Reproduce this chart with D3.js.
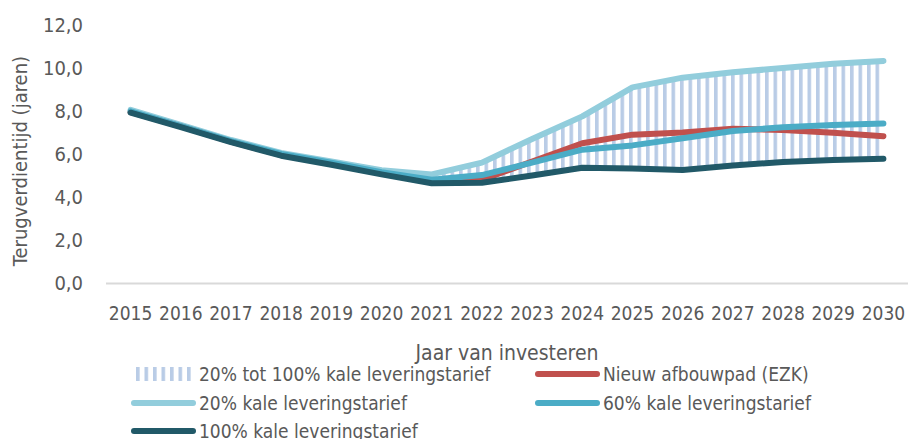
<!DOCTYPE html>
<html><head><meta charset="utf-8">
<script src="https://cdn.jsdelivr.net/npm/d3@7"></script>
<style>
body{margin:0;background:#fff;}
text{font-family:"Liberation Sans Narrow","DejaVu Sans Condensed","Open Sans",sans-serif;fill:#595959;}
</style></head>
<body><svg id="c" width="908" height="439"></svg>
<script>
const years = ["2015","2016","2017","2018","2019","2020","2021","2022","2023","2024","2025","2026","2027","2028","2029","2030"];
const s20  = [8.05,7.35,6.65,6.05,5.65,5.25,5.05,5.6,6.7,7.75,9.1,9.55,9.8,10.0,10.2,10.33];
const s60  = [7.98,7.3,6.6,6.0,5.6,5.15,4.8,5.02,5.6,6.2,6.4,6.73,7.07,7.24,7.35,7.42];
const sEZK = [7.95,7.28,6.58,5.95,5.55,5.1,4.7,4.8,5.65,6.5,6.9,7.0,7.18,7.12,6.99,6.83];
const s100 = [7.92,7.25,6.55,5.92,5.5,5.05,4.64,4.66,5.0,5.36,5.32,5.26,5.47,5.63,5.72,5.78];
const yTicks = [0,2,4,6,8,10,12];
const legendLabels = ["20% tot 100% kale leveringstarief","Nieuw afbouwpad (EZK)","20% kale leveringstarief","60% kale leveringstarief","100% kale leveringstarief"];

const svg = d3.select("#c");
const x = d3.scaleBand().domain(years).range([105.5,908.5]);
const y = d3.scaleLinear().domain([0,12]).range([283,25]);
const cx = d => x(d)+x.bandwidth()/2;

const defs = svg.append("defs");
const pat = defs.append("pattern").attr("id","hatch").attr("patternUnits","userSpaceOnUse")
  .attr("width",8.5).attr("height",10);
pat.append("rect").attr("x",0).attr("y",0).attr("width",3.6).attr("height",10).attr("fill","#b9cce6");

const fmt = v => d3.format(".1f")(v).replace(".",",");

// y axis labels
const yAx = svg.append("g").attr("transform","translate(83,0)")
  .call(d3.axisLeft(y).tickValues(yTicks).tickFormat(fmt).tickSize(0).tickPadding(0));
yAx.select(".domain").remove();
yAx.selectAll("text").style("font-size","20px").attr("fill","#595959");

// x axis
const xAx = svg.append("g").attr("transform","translate(0,283)")
  .call(d3.axisBottom(x).tickSize(0).tickPadding(24));
xAx.select(".domain").attr("stroke","#d9d9d9").attr("stroke-width",2);
xAx.selectAll("text").style("font-size","19px").attr("fill","#595959");

// titles
svg.append("text").attr("transform","translate(27,161) rotate(-90)").attr("text-anchor","middle")
  .style("font-size","20px").text("Terugverdientijd (jaren)");
svg.append("text").attr("x",507).attr("y",360).attr("text-anchor","middle")
  .style("font-size","21px").text("Jaar van investeren");

// area
const area = d3.area().x((d,i)=>cx(years[i])).y0((d,i)=>y(s100[i])).y1((d,i)=>y(s20[i]));
svg.append("path").datum(years).attr("d",area).attr("fill","url(#hatch)");

const line = arr => d3.line().x((d,i)=>cx(years[i])).y(d=>y(d))(arr);
[{v:s20,c:"#92cddc"},{v:sEZK,c:"#c0504d"},{v:s60,c:"#4bacc6"},{v:s100,c:"#215968"}].forEach(s=>{
  svg.append("path").attr("d",line(s.v)).attr("fill","none").attr("stroke",s.c)
    .attr("stroke-width",6).attr("stroke-linecap","round").attr("stroke-linejoin","round");
});

// legend
const lg = svg.append("g");
lg.append("rect").attr("x",134).attr("y",367).attr("width",59).attr("height",14).attr("fill","url(#hatch)");
const items = [
  {x:134,y:374,c:null,t:legendLabels[0]},
  {x:538,y:374,c:"#c0504d",t:legendLabels[1]},
  {x:134,y:403,c:"#92cddc",t:legendLabels[2]},
  {x:538,y:403,c:"#4bacc6",t:legendLabels[3]},
  {x:134,y:431,c:"#215968",t:legendLabels[4]}
];
items.forEach(it=>{
  if(it.c) lg.append("line").attr("x1",it.x).attr("x2",it.x+59).attr("y1",it.y).attr("y2",it.y)
    .attr("stroke",it.c).attr("stroke-width",6).attr("stroke-linecap","round");
  lg.append("text").attr("x",it.x+65).attr("y",it.y).attr("dy","0.35em").style("font-size","19px").text(it.t);
});
</script></body></html>
